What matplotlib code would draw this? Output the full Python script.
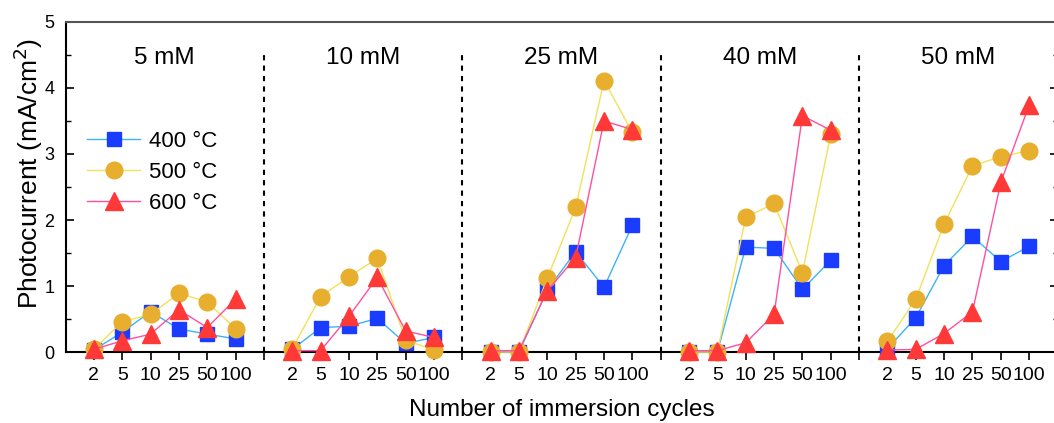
import matplotlib
matplotlib.use('Agg')
import matplotlib.pyplot as plt
from matplotlib.ticker import MultipleLocator
import numpy as np

plt.rcParams['font.family'] = ['Liberation Sans', 'DejaVu Sans']

cycles = ['2', '5', '10', '25', '50', '100']
concentrations = ['5 mM', '10 mM', '25 mM', '40 mM', '50 mM']
temps = ['400 °C', '500 °C', '600 °C']

# photocurrent (mA/cm2), one row per concentration, one column per cycle count
pc_400 = [[0.03, 0.30, 0.61, 0.35, 0.27, 0.20],
          [0.04, 0.37, 0.39, 0.51, 0.13, 0.22],
          [0.00, 0.00, 0.94, 1.52, 0.98, 1.92],
          [0.00, 0.00, 1.59, 1.57, 0.95, 1.39],
          [0.05, 0.52, 1.31, 1.75, 1.37, 1.60]]
pc_500 = [[0.04, 0.46, 0.57, 0.89, 0.76, 0.35],
          [0.05, 0.84, 1.14, 1.42, 0.18, 0.03],
          [0.00, 0.00, 1.12, 2.19, 4.11, 3.33],
          [0.00, 0.00, 2.04, 2.25, 1.20, 3.30],
          [0.16, 0.80, 1.94, 2.82, 2.96, 3.05]]
pc_600 = [[0.04, 0.17, 0.27, 0.64, 0.37, 0.80],
          [0.02, 0.02, 0.54, 1.13, 0.32, 0.22],
          [0.02, 0.02, 0.93, 1.43, 3.50, 3.37],
          [0.02, 0.02, 0.14, 0.57, 3.58, 3.36],
          [0.03, 0.04, 0.28, 0.61, 2.57, 3.74]]

series = [pc_400, pc_500, pc_600]
line_cols = ['#3cb4f5', '#f2e15a', '#ff4fa0']
mark_cols = ['#1a3cff', '#e8ae2e', '#ff3838']
markers = ['s', 'o', '^']
msizes = [10.5, 12, 13]

W, H = 1054, 423
fig = plt.figure(figsize=(W / 100, H / 100), dpi=100)
x0 = 65.5 / W
x1 = 1057.5 / W
y0 = (H - 352) / H
y1 = (H - 22) / H
ax = fig.add_axes([x0, y0, x1 - x0, y1 - y0])

n = len(cycles)
slot = n + 1
for k, conc in enumerate(concentrations):
    xs = np.arange(1, n + 1) + slot * k
    for s, data in enumerate(series):
        ax.plot(xs, data[k], color=line_cols[s], lw=1.0, marker=markers[s],
                ms=msizes[s], mfc=mark_cols[s], mec=mark_cols[s],
                label=temps[s] if k == 0 else None, clip_on=False, zorder=3 + s)
    ax.text(slot * k + slot / 2, 4.45, conc, ha='center', va='center', fontsize=17.5)
    if k > 0:
        ax.plot([slot * k, slot * k], [0, 4.58], color='black', lw=1.5,
                ls=(0, (2.5, 2.5)), zorder=1)

ax.set_xlim(0, slot * len(concentrations))
ax.set_ylim(0, 5)

tick_pos = []
tick_lab = []
for k in range(len(concentrations)):
    if k > 0:
        tick_pos.append(slot * k)
        tick_lab.append('')
    for i, c in enumerate(cycles):
        tick_pos.append(slot * k + i + 1)
        tick_lab.append(c)
ax.set_xticks(tick_pos)
ax.set_xticklabels(tick_lab, fontsize=14)
ax.tick_params(axis='x', direction='out', length=6, width=1.2, pad=5)

ax.yaxis.set_major_locator(MultipleLocator(1))
ax.yaxis.set_minor_locator(MultipleLocator(0.5))
ax.tick_params(axis='y', which='major', direction='in', length=6, width=1.2,
               right=True, labelsize=13, pad=8)
ax.tick_params(axis='y', which='minor', direction='in', length=3.5, width=1.0, right=True)

for sp in ax.spines.values():
    sp.set_linewidth(1.5)
ax.spines['top'].set_color('#555555')

ax.set_xlabel('Number of immersion cycles', fontsize=17.5)
ax.xaxis.set_label_coords(0.5, -0.143)
ax.set_ylabel('Photocurrent (mA/cm$^2$)', fontsize=19)
ax.yaxis.set_label_coords(-0.021, 0.54)

ax.legend(loc='center left', bbox_to_anchor=(0.0126, 0.545), frameon=False, fontsize=16,
          handlelength=2.4, handletextpad=0.4, labelspacing=0.45, borderaxespad=0.0)

fig.savefig('out.png', dpi=100)
